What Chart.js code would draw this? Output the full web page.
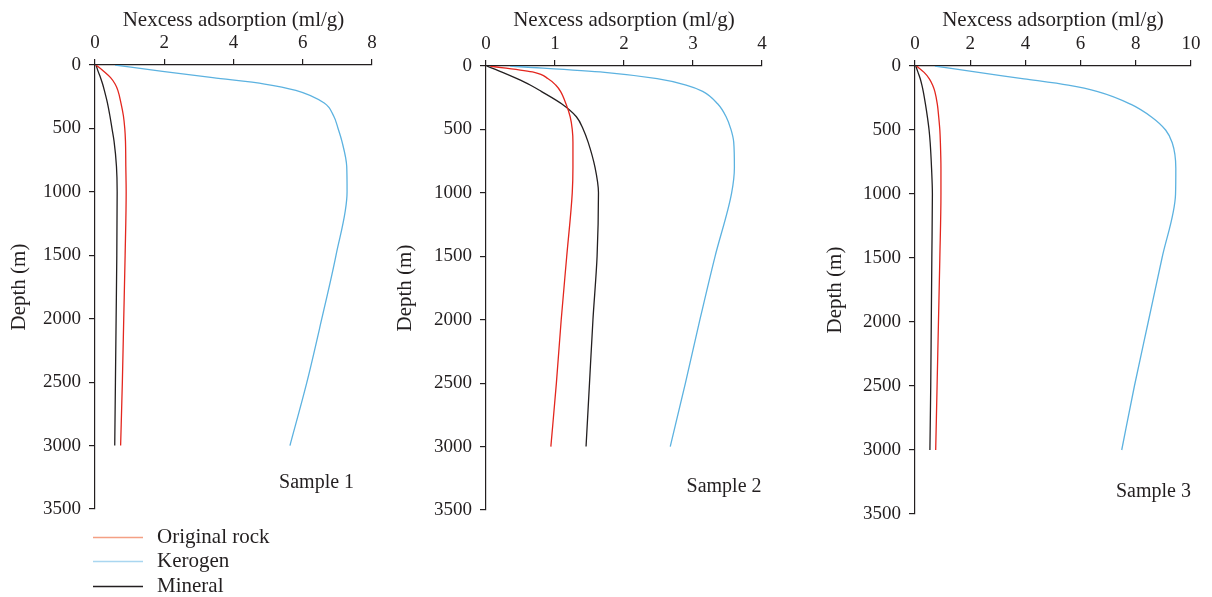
<!DOCTYPE html>
<html><head><meta charset="utf-8">
<script src="https://cdn.jsdelivr.net/npm/chart.js@4.4.1/dist/chart.umd.min.js"></script>
<style>
html,body{margin:0;padding:0;background:#fff;width:1212px;height:597px;overflow:hidden;}
.p{position:absolute;top:0;}
canvas{display:block;}
</style></head><body>
<div class="p" style="left:0px"><canvas id="c1" width="400" height="597"></canvas></div>
<div class="p" style="left:390px"><canvas id="c2" width="400" height="597"></canvas></div>
<div class="p" style="left:820px"><canvas id="c3" width="392" height="597"></canvas></div>
<script>
// ---- data (depth in m, adsorption in ml/g) ----
const depths = [0, 50, 100, 150, 200, 300, 400, 500, 600, 800, 1000, 1500, 2000, 2500, 3000];
const seriesLabels = ['Original rock', 'Kerogen', 'Mineral'];

const s1Original = [0.03, 0.25, 0.45, 0.58, 0.66, 0.75, 0.82, 0.86, 0.88, 0.89, 0.90, 0.87, 0.83, 0.79, 0.74];
const s1Kerogen  = [0.58, 1.95, 3.40, 4.90, 5.80, 6.62, 6.89, 7.02, 7.13, 7.27, 7.28, 6.96, 6.55, 6.12, 5.63];
const s1Mineral  = [0.03, 0.09, 0.16, 0.22, 0.27, 0.36, 0.43, 0.49, 0.55, 0.62, 0.64, 0.63, 0.61, 0.59, 0.57];

const s2Original = [0.06, 0.70, 0.90, 1.01, 1.08, 1.16, 1.22, 1.25, 1.26, 1.26, 1.25, 1.17, 1.09, 1.02, 0.94];
const s2Kerogen  = [0.35, 1.72, 2.48, 2.90, 3.14, 3.36, 3.48, 3.55, 3.59, 3.60, 3.56, 3.32, 3.10, 2.89, 2.67];
const s2Mineral  = [0.01, 0.24, 0.45, 0.64, 0.80, 1.10, 1.31, 1.41, 1.48, 1.58, 1.63, 1.61, 1.55, 1.50, 1.45];

const s3Original = [0.06, 0.33, 0.52, 0.64, 0.72, 0.81, 0.86, 0.90, 0.92, 0.94, 0.94, 0.90, 0.85, 0.80, 0.75];
const s3Kerogen  = [0.72, 2.30, 3.95, 5.55, 6.62, 7.83, 8.58, 9.08, 9.32, 9.45, 9.44, 8.95, 8.45, 7.95, 7.49];
const s3Mineral  = [0.03, 0.11, 0.19, 0.25, 0.30, 0.38, 0.45, 0.51, 0.55, 0.60, 0.63, 0.61, 0.59, 0.57, 0.54];

const depthTicks = [0, 500, 1000, 1500, 2000, 2500, 3000, 3500];
const xMaxes = [8, 4, 10];
const xSteps = [2, 1, 2];
const sampleNames = ['Sample 1', 'Sample 2', 'Sample 3'];
const sampleAt = [[6.40, 3297], [3.45, 3319], [8.64, 3326]];

// ---- styles ----
const FONT = '"Liberation Serif", "Times New Roman", serif';
const TXT = '#231f20';
const AX = '#231f20';
const COLORS = ['#e3261e', '#5cb2e0', '#231f20'];
const LEGEND_COLORS = ['#f4a084', '#a9d6f0', '#231f20'];

function pts(vals) { return vals.map((v, i) => ({ x: v, y: depths[i] })); }

const samplePlugin = {
  id: 'sampleLabel',
  afterDraw(chart, args, o) {
    const ctx = chart.ctx;
    ctx.save();
    ctx.font = '20px ' + FONT;
    ctx.fillStyle = TXT;
    ctx.textAlign = 'center';
    ctx.textBaseline = 'middle';
    ctx.fillText(o.text, chart.scales.x.getPixelForValue(o.at[0]), chart.scales.y.getPixelForValue(o.at[1]));
    ctx.restore();
  }
};

const legendPlugin = {
  id: 'stackLegend',
  afterDraw(chart, args, o) {
    if (!o.show) return;
    const ctx = chart.ctx, a = chart.chartArea;
    chart.data.datasets.forEach((ds, i) => {
      const y = Math.round(a.bottom + 27.7 + i * 24.6) + 0.5;
      ctx.save();
      ctx.strokeStyle = LEGEND_COLORS[i];
      ctx.lineWidth = 1.3;
      ctx.beginPath();
      ctx.moveTo(a.left - 2, y);
      ctx.lineTo(a.left + 48, y);
      ctx.stroke();
      ctx.font = '21px ' + FONT;
      ctx.fillStyle = TXT;
      ctx.textAlign = 'left';
      ctx.textBaseline = 'middle';
      ctx.fillText(ds.label, a.left + 62, y);
      ctx.restore();
    });
  }
};

function makeChart(id, idx, series, lay) {
  const datasets = series.map((vals, i) => ({
    label: seriesLabels[i],
    data: pts(vals),
    borderColor: COLORS[i],
    backgroundColor: COLORS[i],
    borderWidth: 1.3,
    pointRadius: 0,
    fill: false,
    cubicInterpolationMode: 'monotone'
  }));
  return new Chart(document.getElementById(id), {
    type: 'line',
    data: { datasets },
    plugins: [samplePlugin, legendPlugin],
    options: {
      responsive: false,
      animation: false,
      devicePixelRatio: 1,
      indexAxis: 'y',
      layout: { padding: { left: 0, right: lay.padR, top: 0, bottom: lay.padB } },
      plugins: {
        legend: { display: false },
        tooltip: { enabled: false },
        sampleLabel: { text: sampleNames[idx], at: sampleAt[idx] },
        stackLegend: { show: idx === 0 }
      },
      scales: {
        x: {
          type: 'linear',
          position: 'top',
          min: 0, max: xMaxes[idx],
          ticks: { stepSize: xSteps[idx], padding: 4.5, color: TXT, font: { family: FONT, size: 19 }, callback: v => String(v) },
          grid: { drawOnChartArea: false, drawTicks: true, tickLength: 6, color: AX, lineWidth: 1.2 },
          border: { display: true, color: AX, width: 1.2 },
          title: { display: true, text: 'Nexcess adsorption (ml/g)', color: TXT, font: { family: FONT, size: 21 }, padding: { top: 8, bottom: 0 } },
          afterFit: s => { s.height = lay.top; }
        },
        y: {
          type: 'linear',
          reverse: true,
          min: 0, max: 3500,
          afterBuildTicks: s => { s.ticks = depthTicks.map(v => ({ value: v })); },
          ticks: { padding: 8, color: TXT, font: { family: FONT, size: 19 }, callback: v => String(v) },
          grid: { drawOnChartArea: false, drawTicks: true, tickLength: 6, color: AX, lineWidth: 1.2 },
          border: { display: true, color: AX, width: 1.2 },
          title: { display: true, text: 'Depth (m)', color: TXT, font: { family: FONT, size: 21 }, padding: { top: lay.titlePad, bottom: 0 } },
          afterFit: s => { s.width = lay.yw; }
        }
      }
    }
  });
}

makeChart('c1', 0, [s1Original, s1Kerogen, s1Mineral], { yw: 95, top: 65, padR: 28, padB: 88, titlePad: 7 });
makeChart('c2', 1, [s2Original, s2Kerogen, s2Mineral], { yw: 96, top: 66, padR: 28, padB: 87, titlePad: 3 });
makeChart('c3', 2, [s3Original, s3Kerogen, s3Mineral], { yw: 95, top: 66, padR: 21, padB: 83, titlePad: 3 });
</script>
</body></html>
